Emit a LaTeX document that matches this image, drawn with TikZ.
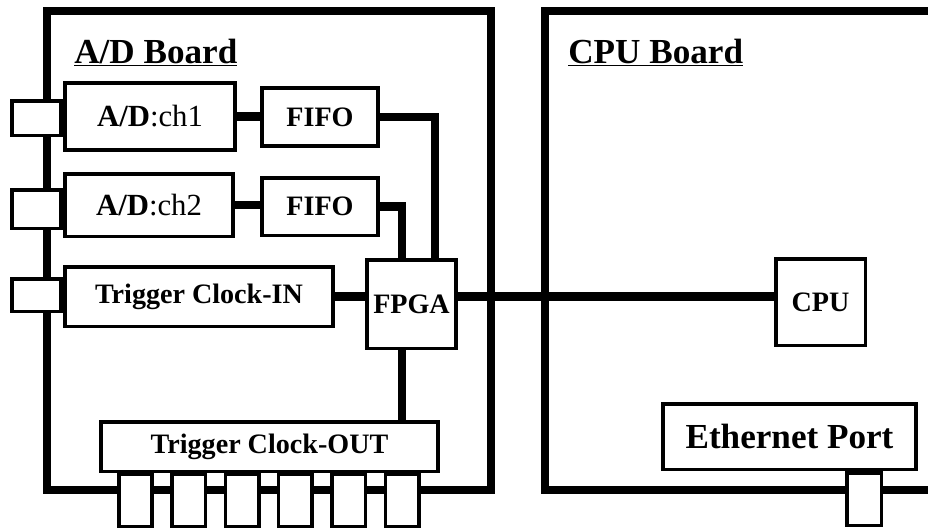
\documentclass[tikz,border=0pt]{standalone}
\usepackage{fontspec}
\setmainfont{Liberation Serif}
\usepackage{tikz}
\tikzset{
  every picture/.style={line join=miter, x=0.02cm, y=-0.02cm},
  board/.style={line width=5pt},
  wire/.style={line width=4.6pt},
  blk/.style={draw, line width=2pt, fill=white, inner sep=0pt, font=\bfseries\fontsize{16}{18}\selectfont},
  jack/.style={draw, line width=2pt, fill=white, inner sep=0pt},
  title/.style={anchor=base west, inner sep=0pt, font=\bfseries\fontsize{20}{22}\selectfont},
}

\begin{document}
\begin{tikzpicture}
\clip (0,0) rectangle (928,529);
% boards
\draw[board] (47,11) rectangle (491,490);
\draw[board] (545,11) rectangle (990,490);
\node[title] (adname) at (74,63) {\underline{A/D Board}};
\node[title] (cpuname) at (568,63) {\underline{CPU Board}};
% A/D board parts
\node[jack, minimum width=0.99cm, minimum height=0.69cm] (in1) at (36.5,118) {};
\node[blk, minimum width=3.41cm, minimum height=1.35cm, font=\fontsize{17.5}{19}\selectfont] (adc1) at (150,116.5) {\textbf{A/D}:ch1};
\node[blk, minimum width=2.33cm, minimum height=1.17cm] (fifo1) at (320,117) {FIFO};
\node[jack, minimum width=0.99cm, minimum height=0.77cm] (in2) at (36.5,209) {};
\node[blk, minimum width=3.37cm, minimum height=1.25cm, font=\fontsize{17.5}{19}\selectfont] (adc2) at (149,205) {\textbf{A/D}:ch2};
\node[blk, minimum width=2.33cm, minimum height=1.15cm] (fifo2) at (320,206.5) {FIFO};
\node[jack, minimum width=0.99cm, minimum height=0.65cm] (in3) at (36.5,295) {};
\node[blk, minimum width=5.37cm, minimum height=1.19cm] (trigin) at (199,296.5) {Trigger Clock-IN};
\node[blk, minimum width=1.79cm, minimum height=1.77cm] (fpga) at (411.5,304) {FPGA};
\node[blk, minimum width=6.75cm, minimum height=0.99cm] (trigout) at (269.5,446.5) {Trigger Clock-OUT};
\foreach \i in {0,...,5}
  \node[jack, minimum width=0.67cm, minimum height=1.05cm] (out\i) at (135.5+53.3*\i,500) {};
% CPU board parts
\node[blk, minimum width=1.79cm, minimum height=1.73cm] (cpu) at (820.5,302) {CPU};
\node[blk, minimum width=5.07cm, minimum height=1.31cm, font=\bfseries\fontsize{20}{22}\selectfont] (eth) at (789.5,436.5) {Ethernet Port};
\node[jack, minimum width=0.69cm, minimum height=1.05cm] (ethjack) at (864,499) {};
% wiring
\coordinate (busA) at (435,0);
\coordinate (busB) at (402,0);
\draw[wire] (adc1.east) -- (adc1.east -| fifo1.west);
\draw[wire] (adc2.east) -- (adc2.east -| fifo2.west);
\draw[wire] (fifo1.east) -| (fpga.north -| busA);
\draw[wire] (fifo2.east) -| (fpga.north -| busB);
\draw[wire] (fpga.south -| busB) -- (trigout.north -| busB);
\draw[wire] (trigin.east) -- (trigin.east -| fpga.west);
\draw[wire] (trigin.east -| fpga.east) -- (trigin.east -| cpu.west);
\end{tikzpicture}
\end{document}
